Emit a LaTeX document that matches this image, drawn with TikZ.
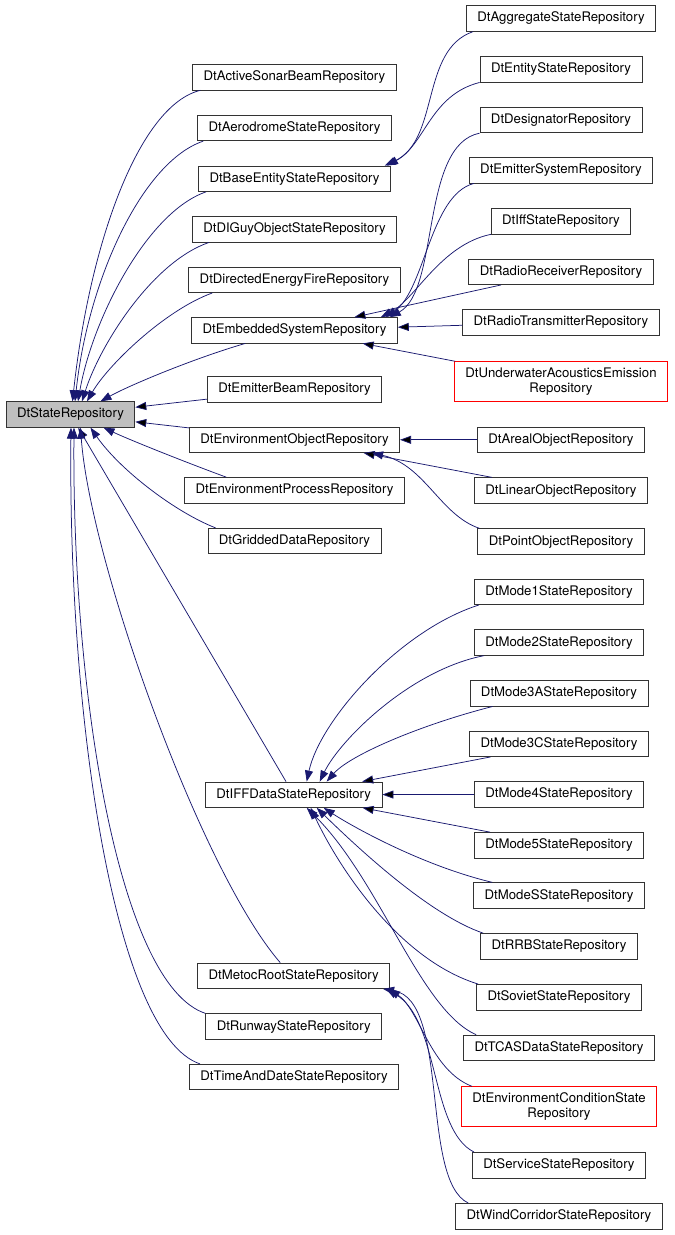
\documentclass[tikz,border=0pt]{standalone}
\usepackage{fontspec}
\setmainfont{TeX Gyre Heros}
\usetikzlibrary{arrows.meta}
\definecolor{midnight}{HTML}{191970}

\begin{document}
\begin{tikzpicture}[x=1pt,y=-1pt,
	cls/.style={draw=black!80, line width=0.8pt, inner xsep=11pt, inner ysep=0pt, minimum height=25.5pt, font=\fontsize{13.2}{15}\selectfont},
	base/.style={cls, fill=black!25},
	miss/.style={cls, draw=red, align=center, minimum height=40pt},
	inh/.style={draw=midnight, line width=0.75pt, -{Triangle[length=11pt,width=8pt]}}]
	\useasboundingbox (0,0) rectangle (675,1235);

	\node[base] (SR) at (70.5,414.5) {DtStateRepository};

	\node[cls] (ASB) at (294.5,77.2) {DtActiveSonarBeamRepository};
	\node[cls] (ADR) at (294.5,128) {DtAerodromeStateRepository};
	\node[cls] (BES) at (294.5,178.7) {DtBaseEntityStateRepository};
	\node[cls] (DIG) at (294.5,229.3) {DtDIGuyObjectStateRepository};
	\node[cls] (DEF) at (294.5,279.8) {DtDirectedEnergyFireRepository};
	\node[cls] (EMS) at (294.5,330.3) {DtEmbeddedSystemRepository};
	\node[cls] (EB) at (294.5,389.3) {DtEmitterBeamRepository};
	\node[cls] (EO) at (294.5,439.8) {DtEnvironmentObjectRepository};
	\node[cls] (EP) at (294.5,490.3) {DtEnvironmentProcessRepository};
	\node[cls] (GD) at (294.5,541) {DtGriddedDataRepository};
	\node[cls] (IFF) at (293.7,794.7) {DtIFFDataStateRepository};
	\node[cls] (MR) at (293.7,975.8) {DtMetocRootStateRepository};
	\node[cls] (RW) at (293.7,1026.5) {DtRunwayStateRepository};
	\node[cls] (TD) at (294,1077) {DtTimeAndDateStateRepository};

	\node[cls] (AGG) at (561,18.5) {DtAggregateStateRepository};
	\node[cls] (ENT) at (561,69.3) {DtEntityStateRepository};
	\node[cls] (DES) at (561,120) {DtDesignatorRepository};
	\node[cls] (ESY) at (561,170.3) {DtEmitterSystemRepository};
	\node[cls] (IFS) at (561,221.2) {DtIffStateRepository};
	\node[cls] (RR) at (561,271.8) {DtRadioReceiverRepository};
	\node[cls] (RT) at (561,322.3) {DtRadioTransmitterRepository};
	\node[miss] (UAE) at (561,381.7) {DtUnderwaterAcousticsEmission\\Repository};
	\node[cls] (AO) at (561,439.8) {DtArealObjectRepository};
	\node[cls] (LO) at (561,490.5) {DtLinearObjectRepository};
	\node[cls] (PO) at (561,541.5) {DtPointObjectRepository};
	\node[cls] (M1) at (559,591.8) {DtMode1StateRepository};
	\node[cls] (M2) at (559,642.5) {DtMode2StateRepository};
	\node[cls] (M3A) at (559,693.3) {DtMode3AStateRepository};
	\node[cls] (M3C) at (559,743.8) {DtMode3CStateRepository};
	\node[cls] (M4) at (559,794.3) {DtMode4StateRepository};
	\node[cls] (M5) at (559,845.3) {DtMode5StateRepository};
	\node[cls] (MS) at (559,895.5) {DtModeSStateRepository};
	\node[cls] (RRB) at (559,946.3) {DtRRBStateRepository};
	\node[cls] (SOV) at (559,997.2) {DtSovietStateRepository};
	\node[cls] (TCAS) at (559,1047.8) {DtTCASDataStateRepository};
	\node[miss] (ECS) at (559,1106.7) {DtEnvironmentConditionState\\Repository};
	\node[cls] (SVC) at (559,1165.2) {DtServiceStateRepository};
	\node[cls] (WC) at (559,1216.2) {DtWindCorridorStateRepository};

	\draw[inh] ([xshift=8pt]ASB.south west) .. controls (140,105) and (90,240) .. ([xshift=2pt]SR.north);
	\draw[inh] ([xshift=6pt]ADR.south west) .. controls (142,162) and (88,280) .. ([xshift=4.5pt]SR.north);
	\draw[inh] ([xshift=8pt]BES.south west) .. controls (147,212) and (92,320) .. ([xshift=7.5pt]SR.north);
	\draw[inh] ([xshift=17pt]DIG.south west) .. controls (152,262) and (100,345) .. ([xshift=11.5pt]SR.north);
	\draw[inh] ([xshift=24pt]DEF.south west) .. controls (165,310) and (108,365) .. ([xshift=16.5pt]SR.north);
	\draw[inh] ([xshift=54pt]EMS.south west) .. controls (195,358) and (130,385) .. ([xshift=30pt]SR.north);
	\path[inh] (EB) edge (SR);
	\path[inh] (EO) edge (SR);
	\draw[inh] ([xshift=42pt]EP.north west) .. controls (185,462) and (130,440) .. ([xshift=33pt]SR.south);
	\draw[inh] ([xshift=8pt]GD.north west) .. controls (175,512) and (120,470) .. ([xshift=20pt]SR.south);
	\path[inh] (IFF) edge (SR);
	\draw[inh] ([xshift=83pt]MR.north west) .. controls (200,870) and (90,560) .. ([xshift=10pt]SR.south);
	\draw[inh] (RW.north west) .. controls (120,985) and (72,700) .. ([xshift=3.5pt]SR.south);
	\draw[inh] ([xshift=11pt]TD.north west) .. controls (115,1035) and (68,720) .. ([xshift=0.5pt]SR.south);

	\draw[inh] ([xshift=7pt]AGG.south west) .. controls (420,50) and (440,140) .. ([xshift=-6pt]BES.north east);
	\draw[inh] (ENT.south west) .. controls (430,95) and (425,145) .. ([xshift=-4pt]BES.north east);

	\draw[inh] (DES.south west) .. controls (420,145) and (440,290) .. ([xshift=-8pt]EMS.north east);
	\draw[inh] ([xshift=5pt]ESY.south west) .. controls (430,195) and (425,290) .. ([xshift=-12pt]EMS.north east);
	\draw[inh] (IFS.south west) .. controls (440,245) and (415,300) .. ([xshift=-17pt]EMS.north east);
	\path[inh] (RR) edge (EMS);
	\path[inh] (RT) edge (EMS);
	\path[inh] (UAE) edge (EMS);

	\path[inh] (AO) edge (EO);
	\path[inh] (LO) edge (EO);
	\draw[inh] ([xshift=2pt]PO.north west) .. controls (440,515) and (425,465) .. ([xshift=-28pt]EO.south east);

	\draw[inh] ([xshift=5pt]M1.south west) .. controls (400,630) and (320,720) .. ([xshift=13pt]IFF.north);
	\draw[inh] ([xshift=10pt]M2.south west) .. controls (410,670) and (340,740) .. ([xshift=26pt]IFF.north);
	\draw[inh] ([xshift=23pt]M3A.south west) .. controls (420,725) and (350,755) .. ([xshift=33pt]IFF.north);
	\path[inh] (M3C) edge (IFF);
	\path[inh] (M4) edge (IFF);
	\path[inh] (M5) edge (IFF);
	\draw[inh] ([xshift=19pt]MS.north west) .. controls (420,865) and (350,825) .. ([xshift=30pt]IFF.south);
	\draw[inh] ([xshift=3pt]RRB.north west) .. controls (430,915) and (360,850) .. ([xshift=23pt]IFF.south);
	\draw[inh] ([xshift=2pt]SOV.north west) .. controls (400,960) and (340,870) .. ([xshift=17pt]IFF.south);
	\draw[inh] ([xshift=13pt]TCAS.north west) .. controls (420,1010) and (380,880) .. ([xshift=13pt]IFF.south);

	\draw[inh] ([xshift=11pt]ECS.north west) .. controls (430,1070) and (420,1010) .. ([xshift=-1pt]MR.south east);
	\draw[inh] ([xshift=2pt]SVC.north west) .. controls (430,1130) and (440,1020) .. ([xshift=-4pt]MR.south east);
	\draw[inh] ([xshift=13pt]WC.north west) .. controls (420,1180) and (450,1000) .. ([xshift=-7pt]MR.south east);
\end{tikzpicture}
\end{document}
